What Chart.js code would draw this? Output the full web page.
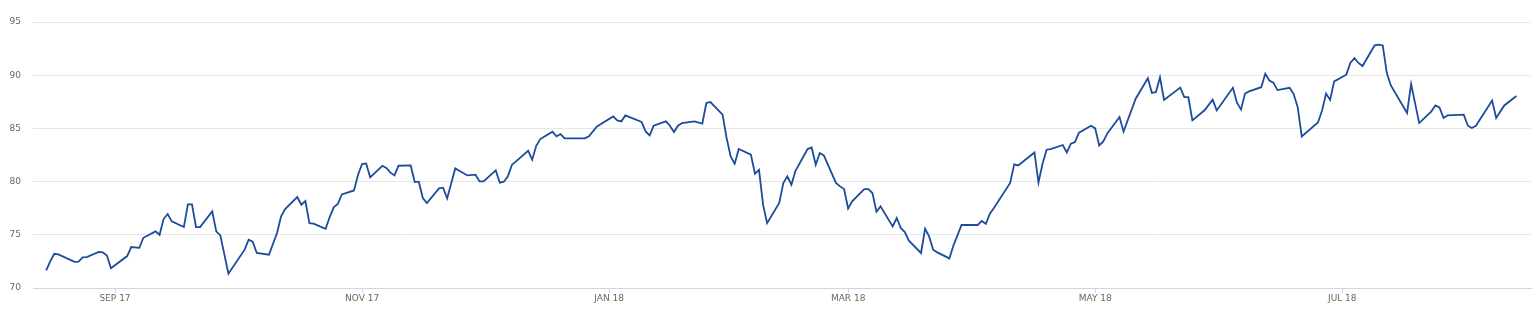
<!DOCTYPE html>
<html><head><meta charset="utf-8">
<script src="https://cdn.jsdelivr.net/npm/chart.js@4.4.1/dist/chart.umd.min.js"></script>
<style>html,body{margin:0;padding:0;background:#fff;overflow:hidden;} #wrap{width:1536px;height:309px;}</style>
</head><body><div id="wrap"><canvas id="c" width="1536" height="309"></canvas></div>
<script>
// x: days since 2017-09-01
const dayOffsets = [-17,-16,-15,-14,-10,-9,-8,-7,-4,-3,-2,-1,3,4,6,7,10,11,12,13,14,17,18,19,20,21,24,25,26,28,32,33,34,35,38,40,41,42,45,46,47,48,49,52,53,54,55,56,59,60,61,62,63,66,67,68,69,70,73,74,75,76,77,80,81,82,84,87,89,90,91,94,95,96,97,98,99,102,103,104,105,108,109,110,111,116,117,119,123,124,125,126,130,131,132,133,136,137,138,139,140,143,145,146,147,150,151,152,153,154,157,158,159,160,161,164,165,166,167,168,171,172,173,174,175,178,179,180,181,182,185,186,187,188,189,192,193,194,195,196,199,200,201,202,203,206,207,208,209,213,214,215,216,217,221,222,223,227,228,229,230,231,234,235,236,237,238,241,242,243,244,245,248,249,252,255,256,257,258,259,263,264,265,266,269,271,272,276,277,278,279,280,283,284,285,286,287,290,291,292,293,297,298,299,300,301,304,305,306,307,308,311,312,313,314,315,319,320,322,325,326,327,328,329,333,334,335,336,340,341,343,346];
const values = [71.65,72.5,73.22,73.16,72.45,72.47,72.88,72.91,73.38,73.35,73.06,71.85,73.0,73.85,73.78,74.72,75.32,75.0,76.48,76.95,76.26,75.73,77.86,77.86,75.73,75.73,77.2,75.32,74.95,71.34,73.6,74.54,74.35,73.29,73.13,75.17,76.73,77.42,78.55,77.83,78.17,76.1,76.04,75.57,76.67,77.58,77.89,78.8,79.17,80.65,81.65,81.71,80.4,81.49,81.28,80.84,80.58,81.49,81.52,79.96,79.99,78.46,77.99,79.36,79.43,78.42,81.24,80.58,80.65,80.02,80.02,81.05,79.9,79.99,80.49,81.59,81.9,82.9,82.06,83.37,84.0,84.69,84.25,84.47,84.06,84.06,84.25,85.19,86.13,85.75,85.66,86.22,85.6,84.72,84.34,85.25,85.66,85.25,84.66,85.25,85.5,85.66,85.44,87.39,87.48,86.29,84.1,82.37,81.68,83.06,82.53,80.74,81.1,77.83,76.1,77.99,79.87,80.49,79.71,81.02,83.06,83.21,81.59,82.69,82.46,79.87,79.55,79.3,77.48,78.14,79.3,79.3,78.93,77.17,77.67,75.79,76.58,75.64,75.26,74.45,73.29,75.57,74.85,73.6,73.35,72.78,74.0,74.94,75.92,75.92,76.3,76.02,76.98,77.52,79.87,81.62,81.52,82.74,79.92,81.68,83.0,83.06,83.44,82.74,83.56,83.72,84.6,85.25,85.0,83.4,83.77,84.53,86.07,84.7,87.79,89.72,88.33,88.42,89.81,87.68,88.84,87.95,87.93,85.75,86.7,87.7,86.69,88.82,87.42,86.79,88.28,88.48,88.87,90.14,89.5,89.3,88.6,88.82,88.23,87.0,84.25,85.55,86.66,88.28,87.68,89.42,90.05,91.15,91.6,91.15,90.86,92.8,92.87,92.8,90.2,89.04,86.45,89.17,85.5,86.6,87.16,86.97,85.98,86.22,86.29,85.25,85.04,85.25,87.63,85.98,87.16,88.04];
const tickDays = [0, 61, 122, 181, 242, 303];
const tickLabels = ['SEP 17', 'NOV 17', 'JAN 18', 'MAR 18', 'MAY 18', 'JUL 18'];
const yTicks = [70, 75, 80, 85, 90, 95];

const points = dayOffsets.map((d, i) => ({x: d, y: values[i]}));

new Chart(document.getElementById('c'), {
  type: 'line',
  data: { datasets: [{
    data: points,
    borderColor: '#1c4c9b',
    borderWidth: 1.8,
    pointRadius: 0,
    tension: 0,
    fill: false
  }]},
  options: {
    responsive: false,
    animation: false,
    devicePixelRatio: 1,
    layout: { padding: { top: 22, right: 5, left: 0, bottom: 0 } },
    plugins: { legend: { display: false }, tooltip: { enabled: false } },
    scales: {
      x: {
        type: 'linear',
        min: -20.25,
        max: 349.6,
        afterBuildTicks: s => { s.ticks = tickDays.map(v => ({value: v})); },
        afterFit: s => { s.height = 21; },
        ticks: {
          autoSkip: false, maxRotation: 0, padding: 0,
          color: '#666666',
          font: { family: 'DejaVu Sans', size: 9 },
          callback: (v, i) => tickLabels[i]
        },
        grid: { drawOnChartArea: false, drawTicks: true, tickLength: 5, color: '#ccd6eb' },
        border: { color: '#ccd6eb', width: 1 }
      },
      y: {
        min: 70, max: 95,
        afterBuildTicks: s => { s.ticks = yTicks.map(v => ({value: v})); },
        afterFit: s => { s.width = 33; },
        ticks: {
          padding: 12,
          color: '#666666',
          font: { family: 'DejaVu Sans', size: 9 }
        },
        grid: { color: '#e6e6e6', drawTicks: false },
        border: { display: false }
      }
    }
  }
});
</script>
</body></html>
